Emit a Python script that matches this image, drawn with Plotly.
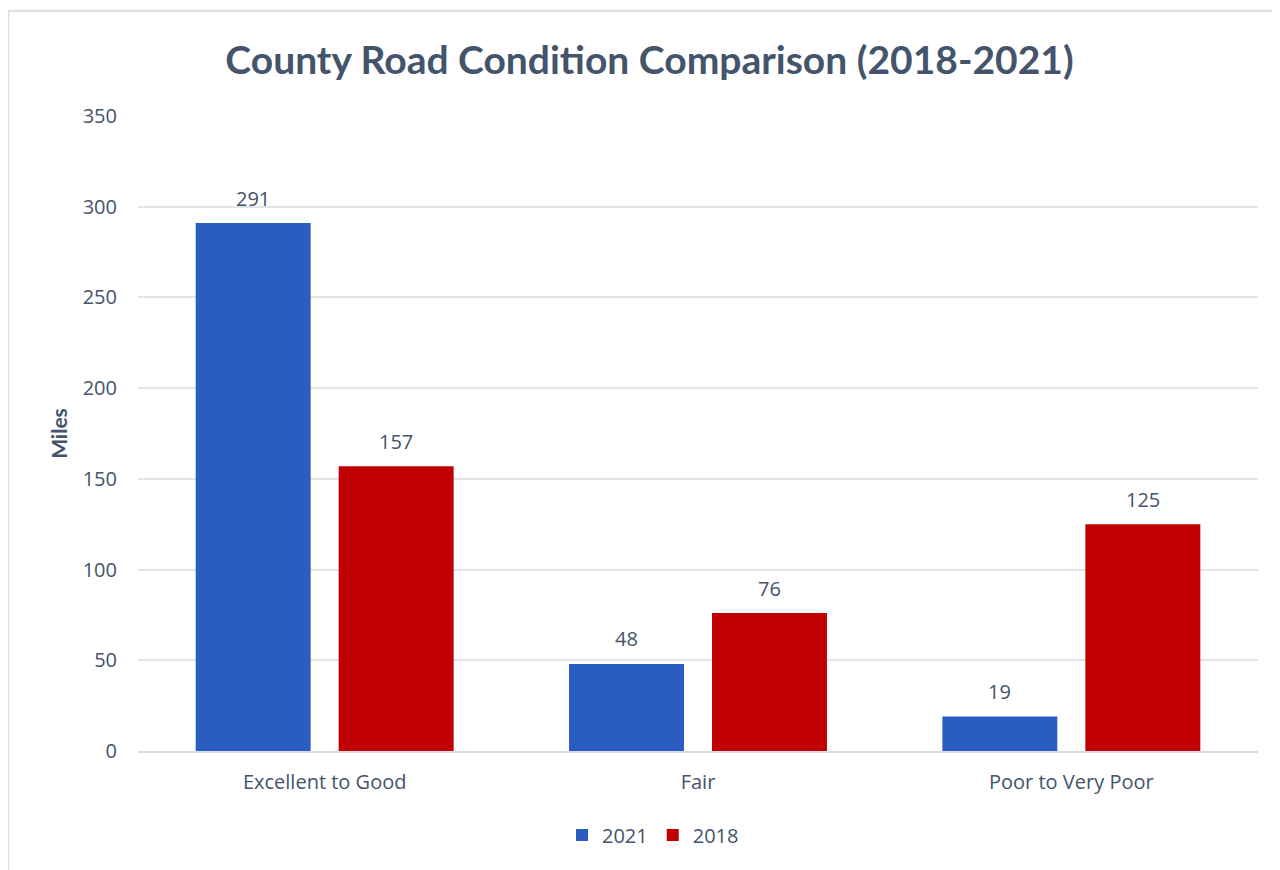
import plotly.graph_objects as go

categories = ["Excellent to Good", "Fair", "Poor to Very Poor"]
miles_2021 = [291, 48, 19]
miles_2018 = [157, 76, 125]
y_ticks = [0, 50, 100, 150, 200, 250, 300, 350]

TXT = "#44546A"
FONT = "Open Sans"
OFF = 8  # default page body margin

fig = go.Figure()
fig.add_trace(go.Bar(
    x=categories, y=miles_2021, name="2021",
    marker=dict(color="#2A5DBF", line=dict(width=0)),
))
fig.add_trace(go.Bar(
    x=categories, y=miles_2018, name="2018",
    marker=dict(color="#C00000", line=dict(width=0)),
))

# value labels above bars
for vals, shift in ((miles_2021, -71.5), (miles_2018, 71.5)):
    for c, v in zip(categories, vals):
        fig.add_annotation(
            x=c, y=v, text=str(v), showarrow=False,
            xshift=shift, yshift=25, yanchor="middle",
            font=dict(size=20, color=TXT, family=FONT),
        )

W, H = 1272, 862
L, R, T, B = 130, 22, 108, 119
pw, ph = W - L - R, H - T - B

def px_x(x):
    return (x - OFF - L) / pw

def px_y(y):
    return (H + OFF - B - y) / ph

fig.update_layout(
    width=W, height=H,
    margin=dict(l=L, r=R, t=T, b=B),
    paper_bgcolor="white", plot_bgcolor="white",
    barmode="group", bargap=0.234, bargroupgap=0.196,
    font=dict(family=FONT, color=TXT, size=20),
    title=dict(
        text="<b>County Road Condition Comparison (2018-2021)</b>",
        x=(649.5 - OFF) / W, xanchor="center", y=1 - (60 - OFF) / H, yanchor="middle",
        font=dict(family="Lato", size=39, color=TXT),
    ),
    legend=dict(
        orientation="h", x=px_x(653), xanchor="center",
        y=px_y(835), yanchor="middle",
        font=dict(size=20, color=TXT, family=FONT),
        itemwidth=30, traceorder="normal", tracegroupgap=0,
    ),
    showlegend=True,
    xaxis=dict(
        showgrid=False, showline=True, linecolor="#D9DDE3", linewidth=2,
        ticks="", tickfont=dict(size=20, color=TXT, family=FONT),
        ticklabelstandoff=12,
    ),
    yaxis=dict(
        range=[0, 350], tickvals=y_ticks, showgrid=True,
        gridcolor="#E1E4E9", gridwidth=1.5, zeroline=False,
        showline=False, ticks="", ticklabelstandoff=20,
        tickfont=dict(size=20, color=TXT, family=FONT),
        title=dict(text="<b>Miles</b>", standoff=9,
                   font=dict(size=21, color=TXT, family="Lato")),
    ),
    shapes=[
        dict(type="line", xref="paper", yref="paper",
             x0=px_x(8), x1=px_x(1290), y0=px_y(11), y1=px_y(11),
             line=dict(color="#DDE1E7", width=2.5)),
        dict(type="line", xref="paper", yref="paper",
             x0=px_x(8), x1=px_x(8), y0=px_y(11), y1=px_y(880),
             line=dict(color="#DDE1E7", width=2.5)),
    ],
)

fig.write_html("out.html")
